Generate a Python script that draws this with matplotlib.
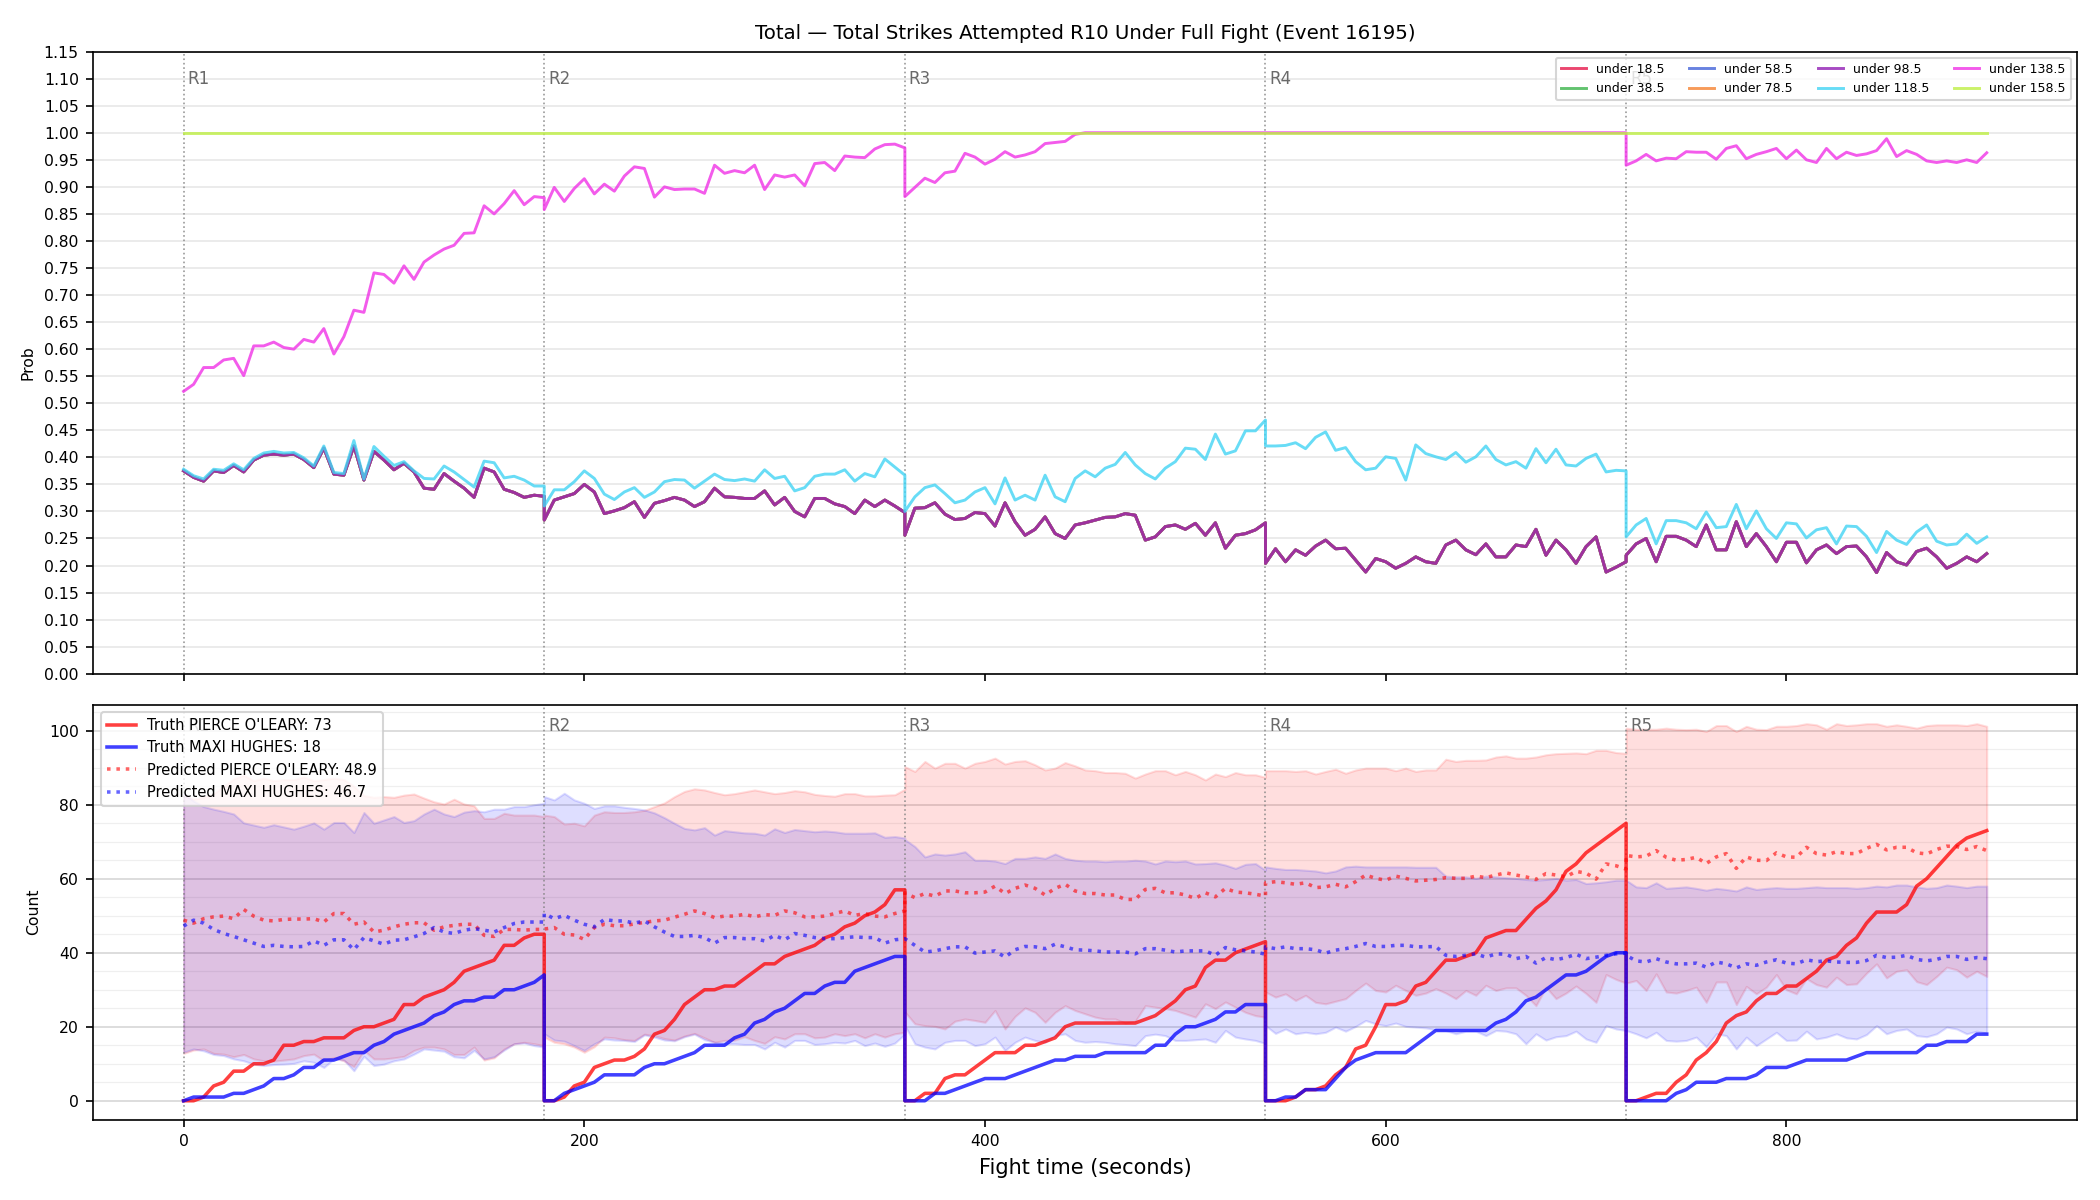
import numpy as np
import matplotlib
matplotlib.use("Agg")
import matplotlib.pyplot as plt
from matplotlib.ticker import MultipleLocator, FormatStrFormatter

# ---------------- data ----------------
round_starts = [0, 180, 360, 540, 720]
round_labels = ["R1", "R2", "R3", "R4", "R5"]
t_offsets = list(range(0, 181, 5))          # sample grid inside each round (s)
times = [s + o for s in round_starts for o in t_offsets]

line_labels = ["under 18.5", "under 38.5", "under 58.5", "under 78.5",
               "under 98.5", "under 118.5", "under 138.5", "under 158.5"]
line_colors = ["#e6194B", "#3cb44b", "#4363d8", "#f58231",
               "#911eb4", "#42d4f4", "#f032e6", "#bfef45"]

# lower cluster (under 18.5 ... under 98.5 are indistinguishable in the chart)
prob_low = [
    0.375, 0.363, 0.356, 0.375, 0.372, 0.385, 0.373, 0.395, 0.404, 0.406, 0.404, 0.406, 0.396, 0.381, 0.417, 0.369, 0.367, 0.421, 0.358, 0.411, 0.395, 0.377, 0.389, 0.373, 0.343, 0.341, 0.370, 0.356, 0.343, 0.326, 0.380, 0.373, 0.341, 0.335, 0.326, 0.330, 0.328,
    0.284, 0.321, 0.327, 0.333, 0.350, 0.336, 0.296, 0.301, 0.307, 0.318, 0.289, 0.315, 0.320, 0.326, 0.321, 0.309, 0.318, 0.343, 0.327, 0.326, 0.324, 0.324, 0.338, 0.312, 0.326, 0.300, 0.290, 0.324, 0.324, 0.314, 0.309, 0.296, 0.321, 0.309, 0.321, 0.310, 0.298,
    0.256, 0.306, 0.307, 0.316, 0.295, 0.285, 0.287, 0.298, 0.296, 0.273, 0.316, 0.281, 0.256, 0.267, 0.290, 0.259, 0.250, 0.275, 0.279, 0.284, 0.289, 0.290, 0.296, 0.293, 0.247, 0.253, 0.272, 0.275, 0.267, 0.278, 0.256, 0.279, 0.232, 0.256, 0.259, 0.266, 0.279,
    0.204, 0.231, 0.207, 0.229, 0.219, 0.236, 0.247, 0.231, 0.232, 0.210, 0.188, 0.213, 0.207, 0.195, 0.204, 0.216, 0.207, 0.204, 0.238, 0.247, 0.229, 0.220, 0.240, 0.216, 0.216, 0.238, 0.235, 0.267, 0.219, 0.247, 0.229, 0.204, 0.235, 0.253, 0.188, 0.197, 0.207,
    0.219, 0.240, 0.250, 0.207, 0.254, 0.254, 0.247, 0.235, 0.275, 0.229, 0.229, 0.281, 0.235, 0.259, 0.235, 0.207, 0.243, 0.243, 0.205, 0.229, 0.238, 0.222, 0.235, 0.236, 0.216, 0.187, 0.224, 0.207, 0.201, 0.226, 0.232, 0.216, 0.195, 0.204, 0.216, 0.207, 0.222,
]
prob_118 = [
    0.378, 0.366, 0.360, 0.378, 0.376, 0.388, 0.377, 0.398, 0.408, 0.411, 0.408, 0.409, 0.399, 0.384, 0.421, 0.372, 0.370, 0.431, 0.360, 0.420, 0.402, 0.385, 0.392, 0.375, 0.361, 0.360, 0.384, 0.373, 0.359, 0.345, 0.393, 0.390, 0.362, 0.365, 0.358, 0.347, 0.347,
    0.310, 0.340, 0.340, 0.355, 0.375, 0.361, 0.332, 0.322, 0.336, 0.344, 0.326, 0.336, 0.355, 0.359, 0.358, 0.343, 0.356, 0.369, 0.359, 0.357, 0.360, 0.356, 0.377, 0.361, 0.365, 0.338, 0.344, 0.365, 0.369, 0.369, 0.377, 0.356, 0.370, 0.364, 0.397, 0.382, 0.367,
    0.300, 0.327, 0.344, 0.349, 0.333, 0.316, 0.321, 0.336, 0.344, 0.314, 0.362, 0.321, 0.330, 0.321, 0.367, 0.327, 0.318, 0.361, 0.375, 0.364, 0.380, 0.387, 0.409, 0.386, 0.370, 0.360, 0.380, 0.392, 0.417, 0.415, 0.396, 0.443, 0.406, 0.412, 0.449, 0.449, 0.469,
    0.421, 0.421, 0.422, 0.427, 0.416, 0.437, 0.447, 0.413, 0.418, 0.392, 0.377, 0.380, 0.401, 0.398, 0.358, 0.423, 0.407, 0.401, 0.396, 0.409, 0.391, 0.401, 0.421, 0.396, 0.386, 0.392, 0.380, 0.416, 0.390, 0.415, 0.386, 0.384, 0.398, 0.406, 0.373, 0.376, 0.375,
    0.253, 0.275, 0.287, 0.240, 0.283, 0.283, 0.279, 0.268, 0.299, 0.270, 0.272, 0.313, 0.268, 0.301, 0.268, 0.250, 0.279, 0.277, 0.251, 0.266, 0.270, 0.240, 0.273, 0.272, 0.254, 0.224, 0.263, 0.247, 0.239, 0.262, 0.275, 0.245, 0.238, 0.240, 0.258, 0.241, 0.253,
]
prob_138 = [
    0.522, 0.535, 0.566, 0.566, 0.580, 0.583, 0.551, 0.606, 0.606, 0.613, 0.603, 0.600, 0.618, 0.613, 0.638, 0.591, 0.623, 0.672, 0.668, 0.741, 0.738, 0.722, 0.754, 0.729, 0.761, 0.774, 0.785, 0.792, 0.814, 0.815, 0.865, 0.850, 0.869, 0.893, 0.867, 0.882, 0.880,
    0.858, 0.899, 0.873, 0.897, 0.915, 0.887, 0.905, 0.892, 0.920, 0.937, 0.934, 0.881, 0.900, 0.895, 0.896, 0.896, 0.888, 0.940, 0.925, 0.930, 0.926, 0.940, 0.895, 0.922, 0.918, 0.922, 0.902, 0.943, 0.945, 0.930, 0.957, 0.955, 0.954, 0.970, 0.978, 0.979, 0.972,
    0.882, 0.899, 0.916, 0.908, 0.926, 0.929, 0.962, 0.955, 0.942, 0.951, 0.965, 0.955, 0.959, 0.965, 0.980, 0.982, 0.984, 0.997, 1.0, 1.0, 1.0, 1.0, 1.0, 1.0, 1.0, 1.0, 1.0, 1.0, 1.0, 1.0, 1.0, 1.0, 1.0, 1.0, 1.0, 1.0, 1.0,
    1.0, 1.0, 1.0, 1.0, 1.0, 1.0, 1.0, 1.0, 1.0, 1.0, 1.0, 1.0, 1.0, 1.0, 1.0, 1.0, 1.0, 1.0, 1.0, 1.0, 1.0, 1.0, 1.0, 1.0, 1.0, 1.0, 1.0, 1.0, 1.0, 1.0, 1.0, 1.0, 1.0, 1.0, 1.0, 1.0, 1.0,
    0.940, 0.948, 0.960, 0.948, 0.953, 0.952, 0.965, 0.964, 0.964, 0.951, 0.971, 0.976, 0.952, 0.960, 0.965, 0.971, 0.952, 0.968, 0.950, 0.945, 0.971, 0.952, 0.964, 0.958, 0.961, 0.967, 0.989, 0.956, 0.967, 0.960, 0.948, 0.945, 0.948, 0.945, 0.950, 0.945, 0.963,
]
prob_158 = [1.0] * 185

prob_series = [prob_low, prob_low, prob_low, prob_low, prob_low,
               prob_118, prob_138, prob_158]

# bottom panel
red_name, blue_name = "PIERCE O'LEARY", "MAXI HUGHES"
red_truth_final, blue_truth_final = 73, 18
red_pred_final, blue_pred_final = 48.9, 46.7

truth_red = [
    0, 0, 1, 4, 5, 8, 8, 10, 10, 11, 15, 15, 16, 16, 17, 17, 17, 19, 20, 20, 21, 22, 26, 26, 28, 29, 30, 32, 35, 36, 37, 38, 42, 42, 44, 45, 45,
    0, 0, 1, 4, 5, 9, 10, 11, 11, 12, 14, 18, 19, 22, 26, 28, 30, 30, 31, 31, 33, 35, 37, 37, 39, 40, 41, 42, 44, 45, 47, 48, 50, 51, 53, 57, 57,
    0, 0, 2, 2, 6, 7, 7, 9, 11, 13, 13, 13, 15, 15, 16, 17, 20, 21, 21, 21, 21, 21, 21, 21, 22, 23, 25, 27, 30, 31, 36, 38, 38, 40, 41, 42, 43,
    0, 0, 0, 1, 3, 3, 4, 7, 9, 14, 15, 20, 26, 26, 27, 31, 32, 35, 38, 38, 39, 40, 44, 45, 46, 46, 49, 52, 54, 57, 62, 64, 67, 69, 71, 73, 75,
    0, 0, 1, 2, 2, 5, 7, 11, 13, 16, 21, 23, 24, 27, 29, 29, 31, 31, 33, 35, 38, 39, 42, 44, 48, 51, 51, 51, 53, 58, 60, 63, 66, 69, 71, 72, 73,
]
truth_blue = [
    0, 1, 1, 1, 1, 2, 2, 3, 4, 6, 6, 7, 9, 9, 11, 11, 12, 13, 13, 15, 16, 18, 19, 20, 21, 23, 24, 26, 27, 27, 28, 28, 30, 30, 31, 32, 34,
    0, 0, 2, 3, 4, 5, 7, 7, 7, 7, 9, 10, 10, 11, 12, 13, 15, 15, 15, 17, 18, 21, 22, 24, 25, 27, 29, 29, 31, 32, 32, 35, 36, 37, 38, 39, 39,
    0, 0, 0, 2, 2, 3, 4, 5, 6, 6, 6, 7, 8, 9, 10, 11, 11, 12, 12, 12, 13, 13, 13, 13, 13, 15, 15, 18, 20, 20, 21, 22, 24, 24, 26, 26, 26,
    0, 0, 1, 1, 3, 3, 3, 6, 9, 11, 12, 13, 13, 13, 13, 15, 17, 19, 19, 19, 19, 19, 19, 21, 22, 24, 27, 28, 30, 32, 34, 34, 35, 37, 39, 40, 40,
    0, 0, 0, 0, 0, 2, 3, 5, 5, 5, 6, 6, 6, 7, 9, 9, 9, 10, 11, 11, 11, 11, 11, 12, 13, 13, 13, 13, 13, 13, 15, 15, 16, 16, 16, 18, 18,
]
pred_red = [
    48.8, 48.0, 49.2, 49.7, 49.9, 49.2, 51.7, 49.9, 48.8, 48.6, 49.0, 49.1, 49.1, 49.2, 48.3, 50.6, 50.6, 47.7, 48.3, 45.6, 46.1, 47.0, 47.7, 48.1, 48.1, 46.1, 47.0, 47.4, 47.7, 47.7, 44.7, 44.4, 46.3, 46.3, 46.1, 46.3, 46.3,
    46.4, 46.8, 45.0, 44.8, 43.6, 46.8, 47.7, 47.3, 47.3, 47.8, 48.2, 48.6, 48.8, 49.6, 50.4, 51.3, 50.6, 49.5, 49.9, 49.9, 50.4, 49.7, 50.3, 50.1, 51.3, 50.8, 49.7, 49.7, 49.9, 50.6, 51.3, 50.1, 50.6, 49.9, 49.7, 50.6, 51.3,
    56.2, 54.9, 56.0, 55.3, 56.7, 56.7, 56.2, 56.2, 56.4, 58.0, 56.0, 57.4, 58.3, 57.4, 55.6, 57.4, 58.5, 56.7, 56.0, 56.0, 55.6, 55.6, 54.4, 54.4, 57.1, 57.4, 56.2, 56.2, 55.6, 54.7, 56.2, 55.1, 57.4, 56.4, 56.2, 55.8, 55.3,
    58.9, 59.2, 58.9, 58.5, 58.9, 57.6, 57.8, 58.5, 57.8, 59.2, 61.0, 60.1, 59.6, 60.7, 60.1, 59.4, 59.6, 59.8, 60.3, 60.1, 60.1, 60.7, 60.3, 61.0, 61.6, 61.0, 60.5, 59.8, 61.4, 61.0, 60.5, 62.0, 61.5, 59.9, 64.0, 63.5, 62.6,
    66.3, 65.9, 66.1, 67.6, 65.8, 65.0, 65.2, 65.8, 64.1, 65.9, 66.8, 62.8, 65.9, 65.0, 64.9, 67.0, 65.9, 65.8, 68.5, 66.8, 66.4, 67.3, 66.8, 66.8, 68.2, 69.3, 67.8, 68.5, 68.5, 67.0, 66.7, 67.9, 68.8, 68.7, 67.9, 68.7, 67.6,
]
pred_blue = [
    47.2, 48.8, 48.0, 46.3, 45.2, 44.4, 43.5, 42.6, 41.7, 42.0, 41.7, 41.6, 41.7, 43.2, 42.0, 43.5, 43.5, 40.8, 44.1, 43.2, 42.3, 43.4, 43.5, 44.3, 45.2, 46.8, 45.6, 45.2, 46.1, 46.5, 46.1, 45.6, 46.8, 47.9, 48.3, 48.3, 48.3,
    50.6, 49.2, 50.1, 48.8, 47.7, 47.0, 49.0, 48.6, 48.6, 48.0, 48.6, 47.0, 45.6, 44.4, 44.4, 44.7, 44.1, 42.6, 44.1, 44.1, 43.8, 43.8, 43.2, 44.7, 43.5, 45.2, 44.7, 44.1, 43.8, 43.8, 44.1, 44.3, 44.1, 44.1, 42.6, 43.5, 43.8,
    43.8, 42.0, 40.2, 40.5, 41.1, 41.6, 41.6, 39.9, 40.2, 40.5, 38.8, 40.8, 41.7, 41.6, 41.1, 42.3, 41.6, 40.8, 40.7, 40.5, 40.2, 40.2, 40.2, 39.7, 41.1, 41.1, 40.7, 40.2, 40.5, 40.5, 40.5, 39.3, 41.4, 40.8, 40.5, 40.2, 39.6,
    41.6, 41.1, 41.6, 41.1, 41.1, 40.8, 39.9, 40.7, 41.1, 41.7, 42.5, 41.7, 41.7, 42.0, 42.0, 41.6, 41.6, 41.7, 39.3, 39.0, 39.3, 39.7, 38.8, 39.7, 39.6, 38.4, 39.0, 37.2, 38.7, 38.1, 38.7, 39.6, 38.4, 38.8, 39.3, 39.7, 39.9,
    39.3, 37.8, 37.5, 38.4, 37.5, 37.0, 37.0, 37.2, 36.1, 37.5, 37.0, 35.9, 37.0, 36.6, 37.5, 38.1, 37.2, 37.0, 38.1, 37.6, 37.8, 37.5, 37.4, 37.4, 37.9, 39.3, 38.7, 38.8, 39.3, 38.2, 37.8, 38.2, 39.0, 39.0, 38.2, 38.7, 38.4,
]
red_hi = [
    82.5, 81.5, 82.0, 83.0, 85.0, 87.0, 88.0, 86.5, 87.2, 86.5, 86.8, 86.8, 87.5, 86.5, 86.8, 87.2, 86.8, 85.0, 82.5, 82.0, 82.2, 82.0, 82.6, 82.9, 81.8, 80.8, 80.2, 81.5, 80.2, 79.7, 76.3, 76.3, 77.7, 77.2, 77.2, 77.2, 76.8,
    77.2, 76.8, 74.8, 75.0, 74.3, 77.2, 78.1, 77.9, 77.9, 78.1, 78.5, 79.5, 80.5, 82.2, 83.6, 84.3, 84.0, 83.3, 82.7, 83.0, 83.5, 84.0, 83.5, 83.0, 83.3, 83.8, 83.5, 82.8, 82.5, 82.3, 83.0, 83.0, 82.4, 82.4, 82.6, 82.7, 84.2,
    90.3, 89.0, 91.7, 89.9, 91.2, 91.2, 89.9, 91.2, 91.7, 92.6, 91.0, 91.7, 91.9, 90.8, 89.4, 89.9, 91.4, 90.5, 89.4, 89.2, 88.7, 88.7, 88.5, 87.2, 88.3, 89.2, 89.2, 88.1, 89.0, 88.1, 86.7, 88.3, 87.6, 88.7, 88.1, 88.1, 87.4,
    89.2, 89.2, 89.2, 89.0, 89.2, 88.3, 89.0, 89.6, 88.5, 89.4, 89.9, 89.9, 89.9, 89.2, 89.9, 89.0, 89.4, 89.4, 92.3, 91.7, 92.0, 92.0, 92.1, 92.9, 93.2, 92.6, 92.6, 92.9, 93.5, 93.8, 93.9, 94.0, 93.8, 94.7, 94.7, 94.1, 93.9,
    100.7, 100.4, 100.4, 100.4, 100.7, 100.4, 100.3, 100.4, 99.8, 101.4, 101.4, 99.8, 101.2, 100.4, 100.3, 101.2, 101.2, 101.4, 101.9, 101.6, 100.4, 101.9, 101.4, 101.6, 101.9, 101.9, 101.2, 101.6, 101.2, 100.7, 101.4, 101.6, 101.6, 101.6, 101.4, 101.9, 101.2,
]
red_lo = [
    12.8, 13.7, 14.0, 12.8, 12.6, 11.9, 12.5, 11.3, 10.8, 10.7, 11.0, 11.3, 12.2, 12.6, 10.8, 11.7, 10.8, 9.2, 13.6, 11.3, 11.3, 11.6, 12.0, 13.6, 14.5, 14.5, 14.0, 12.5, 12.5, 14.5, 11.0, 11.6, 14.0, 15.4, 15.8, 15.4, 14.9,
    17.2, 15.8, 15.4, 14.5, 13.1, 14.6, 17.2, 17.0, 16.5, 16.3, 18.0, 17.6, 16.8, 16.4, 17.5, 18.2, 17.0, 15.8, 16.3, 16.4, 17.3, 16.3, 15.5, 17.3, 16.7, 18.1, 18.1, 17.0, 17.2, 18.1, 17.6, 18.1, 17.0, 18.1, 17.2, 18.1, 18.5,
    24.0, 20.8, 20.3, 20.1, 19.4, 21.5, 22.1, 21.7, 21.2, 24.4, 19.4, 22.8, 25.1, 23.9, 21.2, 23.9, 25.7, 24.4, 23.5, 22.6, 22.1, 22.1, 21.0, 21.5, 25.7, 25.3, 24.9, 24.4, 23.5, 22.6, 26.2, 24.9, 26.7, 25.3, 23.9, 23.0, 22.6,
    29.4, 28.0, 28.9, 27.1, 28.5, 26.6, 26.2, 26.9, 27.6, 29.8, 31.8, 29.8, 29.4, 31.2, 29.8, 28.5, 29.1, 30.3, 29.1, 27.6, 29.8, 28.5, 31.2, 29.8, 30.5, 30.5, 28.5, 25.7, 30.7, 27.6, 29.1, 31.0, 29.0, 26.6, 34.1, 32.8, 31.8,
    31.8, 32.5, 29.8, 34.3, 29.4, 29.1, 29.8, 30.7, 26.6, 32.1, 32.1, 26.0, 30.9, 28.9, 30.7, 34.1, 30.0, 28.9, 33.0, 31.4, 30.7, 33.4, 31.4, 31.6, 34.5, 37.0, 33.2, 35.0, 35.4, 32.2, 31.4, 33.6, 36.1, 35.4, 33.4, 35.0, 33.6,
]
blue_hi = [
    83.0, 81.0, 79.5, 78.8, 78.2, 77.5, 75.1, 74.5, 73.9, 74.6, 74.0, 73.4, 74.2, 75.1, 73.4, 75.2, 75.2, 72.5, 77.9, 75.0, 75.9, 76.8, 75.2, 75.7, 77.5, 78.8, 77.5, 76.8, 78.0, 78.4, 78.1, 78.8, 78.8, 79.5, 79.5, 80.0, 80.4,
    82.2, 81.3, 83.1, 81.3, 80.4, 79.0, 79.7, 79.7, 79.3, 79.0, 78.6, 77.8, 76.5, 75.0, 73.6, 73.2, 73.8, 71.8, 73.0, 72.7, 72.4, 72.3, 71.8, 73.5, 72.5, 73.3, 73.0, 72.7, 72.9, 72.7, 72.3, 72.3, 72.3, 72.4, 71.2, 71.4, 71.0,
    70.6, 68.7, 65.9, 66.7, 66.4, 66.7, 67.3, 65.0, 65.0, 64.8, 64.1, 65.5, 65.5, 65.9, 65.5, 66.7, 65.5, 65.0, 64.8, 64.8, 64.6, 64.8, 64.8, 65.0, 64.8, 64.0, 64.8, 64.6, 64.8, 64.0, 64.1, 64.3, 63.7, 62.8, 63.9, 64.1, 62.3,
    63.2, 62.8, 62.5, 62.5, 62.3, 62.1, 61.6, 62.1, 63.2, 63.4, 63.2, 63.2, 63.2, 63.2, 63.2, 63.1, 63.1, 63.1, 60.7, 60.5, 60.5, 60.1, 60.7, 60.5, 60.3, 60.1, 59.8, 59.6, 59.8, 60.1, 59.6, 59.8, 58.7, 58.9, 59.2, 59.6, 59.6,
    59.6, 57.8, 57.6, 58.9, 57.4, 57.6, 57.8, 57.4, 56.9, 57.4, 57.1, 56.7, 57.8, 57.1, 57.4, 57.6, 57.4, 57.4, 57.6, 57.8, 57.6, 57.6, 57.6, 57.4, 57.6, 58.0, 57.8, 58.3, 58.3, 57.8, 57.4, 57.6, 58.3, 58.0, 57.6, 58.0, 58.0,
]
blue_lo = [
    13.1, 14.0, 13.5, 12.5, 12.2, 11.3, 10.8, 9.9, 9.5, 9.8, 9.9, 10.1, 10.8, 10.4, 9.0, 11.3, 11.0, 8.1, 12.0, 9.5, 9.9, 10.8, 11.3, 12.6, 14.0, 13.7, 13.4, 11.9, 11.6, 13.6, 11.3, 11.9, 13.7, 15.4, 15.6, 14.9, 14.5,
    18.1, 16.4, 16.1, 14.9, 13.6, 15.4, 16.7, 16.4, 16.3, 16.0, 17.8, 17.2, 16.4, 16.2, 17.3, 18.0, 16.5, 15.8, 15.4, 15.4, 15.2, 15.2, 14.0, 15.8, 14.5, 16.3, 16.3, 15.2, 15.4, 15.8, 15.6, 16.3, 14.9, 15.6, 14.7, 15.6, 18.0,
    20.3, 15.4, 14.5, 14.0, 15.8, 16.3, 16.3, 14.9, 15.4, 17.2, 13.6, 15.8, 17.2, 16.3, 15.8, 17.6, 18.1, 16.3, 15.8, 16.0, 15.8, 15.4, 15.2, 14.9, 17.6, 18.0, 17.6, 16.3, 16.3, 16.5, 16.7, 15.8, 19.0, 17.2, 16.7, 16.3, 15.5,
    20.3, 18.2, 19.4, 18.1, 18.5, 18.1, 18.5, 19.9, 18.8, 20.1, 21.7, 20.8, 20.3, 21.0, 20.1, 19.9, 19.7, 19.2, 19.0, 18.1, 18.8, 18.8, 17.6, 19.0, 18.8, 18.1, 15.4, 18.1, 16.4, 17.3, 17.6, 18.8, 16.7, 15.8, 20.3, 19.4, 19.0,
    19.0, 18.1, 17.0, 18.5, 16.3, 16.1, 16.3, 17.2, 14.6, 18.1, 17.6, 14.0, 17.2, 14.9, 16.7, 18.5, 16.3, 16.4, 18.8, 16.7, 17.2, 18.1, 17.0, 16.7, 17.9, 20.3, 18.1, 19.0, 19.4, 17.6, 17.3, 18.1, 19.9, 19.4, 18.1, 18.8, 18.3,
]

title = "Total \u2014 Total Strikes Attempted R10 Under Full Fight (Event 16195)"

# ---------------- figure ----------------
plt.rcParams["font.family"] = ["DejaVu Sans"]
fig, (ax1, ax2) = plt.subplots(2, 1, figsize=(14, 8), dpi=150, sharex=True,
                               gridspec_kw=dict(height_ratios=[3, 2]))
fig.subplots_adjust(left=0.0445, right=0.989, top=0.957, bottom=0.067, hspace=0.06)

t = np.array(times)

# top panel
for lab, col, ser in zip(line_labels, line_colors, prob_series):
    ax1.plot(t, ser, color=col, lw=1.4, alpha=0.8, label=lab)
ax1.set_ylim(0, 1.15)
ax1.yaxis.set_major_locator(MultipleLocator(0.05))
ax1.yaxis.set_major_formatter(FormatStrFormatter("%.2f"))
ax1.grid(axis="y", color="#b0b0b0", alpha=0.3, lw=0.8)
ax1.set_axisbelow(True)
ax1.set_ylabel("Prob", fontsize=7.5)
ax1.set_title(title, fontsize=9.5)
ax1.legend(loc="upper right", ncol=4, fontsize=6)

# bottom panel
ax2.fill_between(t, red_lo, red_hi, color="red", alpha=0.13)
ax2.fill_between(t, blue_lo, blue_hi, color="blue", alpha=0.13)
ax2.plot(t, truth_red, color="red", lw=1.7, alpha=0.75,
         label=f"Truth {red_name}: {red_truth_final}")
ax2.plot(t, truth_blue, color="blue", lw=1.7, alpha=0.75,
         label=f"Truth {blue_name}: {blue_truth_final}")
ax2.plot(t, pred_red, color="red", lw=1.7, ls=":", alpha=0.6,
         label=f"Predicted {red_name}: {red_pred_final}")
ax2.plot(t, pred_blue, color="blue", lw=1.7, ls=":", alpha=0.6,
         label=f"Predicted {blue_name}: {blue_pred_final}")
ax2.yaxis.set_minor_locator(MultipleLocator(5))
ax2.grid(axis="y", which="major", color="#b0b0b0", alpha=0.5, lw=0.8)
ax2.grid(axis="y", which="minor", color="#b0b0b0", alpha=0.2, lw=0.6)
ax2.tick_params(axis="y", which="minor", length=0)
ax2.set_axisbelow(True)
ax2.set_ylabel("Count", fontsize=7.5)
ax2.set_xlabel("Fight time (seconds)", fontsize=10)
ax2.legend(loc="upper left", fontsize=7)

for ax in (ax1, ax2):
    ax.tick_params(labelsize=7.5)
    ytop = ax.get_ylim()[1]
    for s, lab in zip(round_starts, round_labels):
        ax.axvline(s, color="gray", ls=":", lw=0.8, alpha=0.8, zorder=1)
        ax.text(s + 2, ytop * 0.97, lab, color="dimgray", fontsize=8,
                ha="left", va="top", zorder=1)

fig.savefig("out.png", dpi=150)
